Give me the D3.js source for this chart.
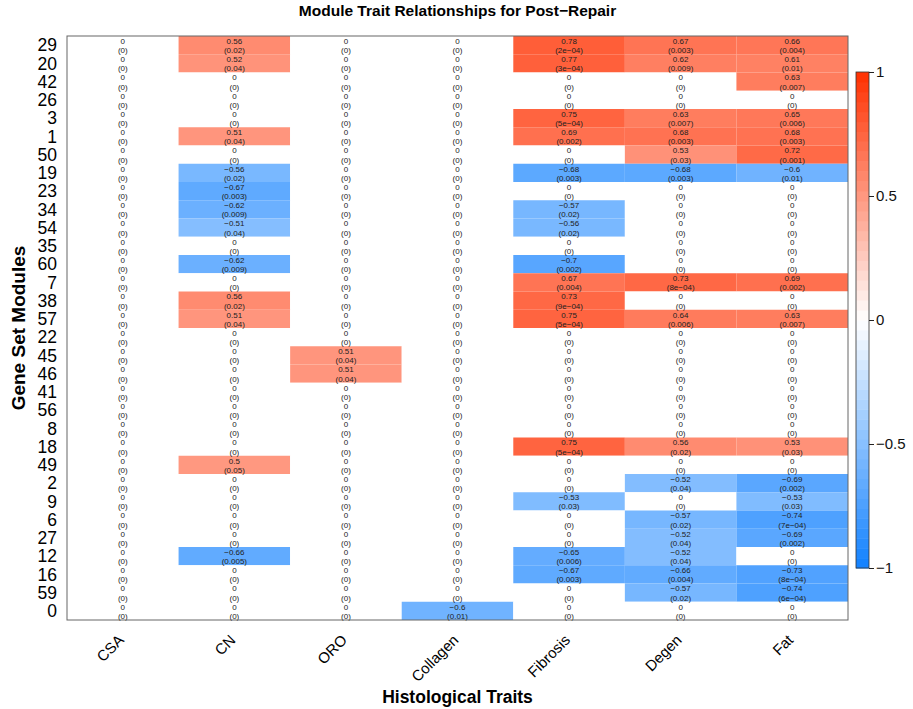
<!DOCTYPE html>
<meta charset="utf-8">
<script src="https://d3js.org/d3.v7.min.js"></script>
<style>
  body { margin: 0; background: #fff; }
  text { font-family: "Liberation Sans", Arial, sans-serif; }
</style>
<body>
<script>
// histological traits (columns) and modules (rows, top to bottom)
var traits = ["CSA", "CN", "ORO", "Collagen", "Fibrosis", "Degen", "Fat"];
var modules = ["29","20","42","26","3","1","50","19","23","34","54","35","60","7","38","57",
               "22","45","46","41","56","8","18","49","2","9","6","27","12","16","59","0"];

// correlation per module, one value per trait
var corr = [
  [0, 0.56, 0, 0, 0.78, 0.67, 0.66],
  [0, 0.52, 0, 0, 0.77, 0.62, 0.61],
  [0, 0, 0, 0, 0, 0, 0.63],
  [0, 0, 0, 0, 0, 0, 0],
  [0, 0, 0, 0, 0.75, 0.63, 0.65],
  [0, 0.51, 0, 0, 0.69, 0.68, 0.68],
  [0, 0, 0, 0, 0, 0.53, 0.72],
  [0, -0.56, 0, 0, -0.68, -0.68, -0.6],
  [0, -0.67, 0, 0, 0, 0, 0],
  [0, -0.62, 0, 0, -0.57, 0, 0],
  [0, -0.51, 0, 0, -0.56, 0, 0],
  [0, 0, 0, 0, 0, 0, 0],
  [0, -0.62, 0, 0, -0.7, 0, 0],
  [0, 0, 0, 0, 0.67, 0.73, 0.69],
  [0, 0.56, 0, 0, 0.73, 0, 0],
  [0, 0.51, 0, 0, 0.75, 0.64, 0.63],
  [0, 0, 0, 0, 0, 0, 0],
  [0, 0, 0.51, 0, 0, 0, 0],
  [0, 0, 0.51, 0, 0, 0, 0],
  [0, 0, 0, 0, 0, 0, 0],
  [0, 0, 0, 0, 0, 0, 0],
  [0, 0, 0, 0, 0, 0, 0],
  [0, 0, 0, 0, 0.75, 0.56, 0.53],
  [0, 0.5, 0, 0, 0, 0, 0],
  [0, 0, 0, 0, 0, -0.52, -0.69],
  [0, 0, 0, 0, -0.53, 0, -0.53],
  [0, 0, 0, 0, 0, -0.57, -0.74],
  [0, 0, 0, 0, 0, -0.52, -0.69],
  [0, -0.66, 0, 0, -0.65, -0.52, 0],
  [0, 0, 0, 0, -0.67, -0.66, -0.73],
  [0, 0, 0, 0, 0, -0.57, -0.74],
  [0, 0, 0, -0.6, 0, 0, 0]
];

// p-values as printed
var pval = [
  ["0", "0.02", "0", "0", "2e-04", "0.003", "0.004"],
  ["0", "0.04", "0", "0", "3e-04", "0.009", "0.01"],
  ["0", "0", "0", "0", "0", "0", "0.007"],
  ["0", "0", "0", "0", "0", "0", "0"],
  ["0", "0", "0", "0", "5e-04", "0.007", "0.006"],
  ["0", "0.04", "0", "0", "0.002", "0.003", "0.003"],
  ["0", "0", "0", "0", "0", "0.03", "0.001"],
  ["0", "0.02", "0", "0", "0.003", "0.003", "0.01"],
  ["0", "0.003", "0", "0", "0", "0", "0"],
  ["0", "0.009", "0", "0", "0.02", "0", "0"],
  ["0", "0.04", "0", "0", "0.02", "0", "0"],
  ["0", "0", "0", "0", "0", "0", "0"],
  ["0", "0.009", "0", "0", "0.002", "0", "0"],
  ["0", "0", "0", "0", "0.004", "8e-04", "0.002"],
  ["0", "0.02", "0", "0", "9e-04", "0", "0"],
  ["0", "0.04", "0", "0", "5e-04", "0.006", "0.007"],
  ["0", "0", "0", "0", "0", "0", "0"],
  ["0", "0", "0.04", "0", "0", "0", "0"],
  ["0", "0", "0.04", "0", "0", "0", "0"],
  ["0", "0", "0", "0", "0", "0", "0"],
  ["0", "0", "0", "0", "0", "0", "0"],
  ["0", "0", "0", "0", "0", "0", "0"],
  ["0", "0", "0", "0", "5e-04", "0.02", "0.03"],
  ["0", "0.05", "0", "0", "0", "0", "0"],
  ["0", "0", "0", "0", "0", "0.04", "0.002"],
  ["0", "0", "0", "0", "0.03", "0", "0.03"],
  ["0", "0", "0", "0", "0", "0.02", "7e-04"],
  ["0", "0", "0", "0", "0", "0.04", "0.002"],
  ["0", "0.005", "0", "0", "0.006", "0.04", "0"],
  ["0", "0", "0", "0", "0.003", "0.004", "8e-04"],
  ["0", "0", "0", "0", "0", "0.02", "6e-04"],
  ["0", "0", "0", "0.01", "0", "0", "0"]
];

var legendTicks = [1, 0.5, 0, -0.5, -1];

var W = 913, H = 709;
var plot = {left: 67, right: 848, top: 36, bottom: 620};

var svg = d3.select("body").append("svg")
    .attr("width", W)
    .attr("height", H);

var x = d3.scaleBand().domain(traits).range([plot.left, plot.right]);
var y = d3.scaleBand().domain(modules).range([plot.top, plot.bottom]);

var color = d3.scaleLinear()
    .domain([-1, 0, 1])
    .range(["#1080ff", "#ffffff", "#ff3000"])
    .interpolate(d3.interpolateRgb);

function minus(s) { return String(s).replace(/-/g, "\u2212"); }

// flatten to cells
var cells = [];
modules.forEach(function(m, i) {
  traits.forEach(function(t, j) {
    cells.push({module: m, trait: t, r: corr[i][j], p: pval[i][j]});
  });
});

// cells
svg.append("g")
  .selectAll("rect")
  .data(cells)
  .enter().append("rect")
    .attr("x", function(d) { return x(d.trait); })
    .attr("y", function(d) { return y(d.module); })
    .attr("width", x.bandwidth())
    .attr("height", y.bandwidth())
    .attr("fill", function(d) { return color(d.r); });

var labels = svg.append("g")
  .selectAll("g")
  .data(cells)
  .enter().append("g")
    .attr("transform", function(d) {
      return "translate(" + (x(d.trait) + x.bandwidth() / 2) + "," + y(d.module) + ")";
    })
    .style("font-size", "8px")
    .style("fill", "#222")
    .attr("text-anchor", "middle");

labels.append("text")
    .attr("y", 5)
    .attr("dy", "0.35em")
    .text(function(d) { return minus(d.r); });

labels.append("text")
    .attr("y", 14.3)
    .attr("dy", "0.35em")
    .text(function(d) { return "(" + minus(d.p) + ")"; });

// frame
svg.append("rect")
    .attr("x", plot.left)
    .attr("y", plot.top)
    .attr("width", plot.right - plot.left)
    .attr("height", plot.bottom - plot.top)
    .attr("fill", "none")
    .attr("stroke", "#666")
    .attr("stroke-width", 1);

// row labels
svg.append("g")
  .selectAll("text")
  .data(modules)
  .enter().append("text")
    .attr("x", 57)
    .attr("y", function(d) { return y(d) + y.bandwidth() / 2; })
    .attr("dy", "0.36em")
    .attr("text-anchor", "end")
    .style("font-size", "17.5px")
    .text(function(d) { return d; });

// column labels, rotated
svg.append("g")
  .selectAll("text")
  .data(traits)
  .enter().append("text")
    .attr("transform", function(d) {
      return "translate(" + (x(d) + x.bandwidth() / 2 + 2) + ",641) rotate(-45)";
    })
    .attr("text-anchor", "end")
    .style("font-size", "15px")
    .text(function(d) { return d; });

// titles
svg.append("text")
    .attr("x", (plot.left + plot.right) / 2)
    .attr("y", 16)
    .attr("text-anchor", "middle")
    .style("font-size", "15.5px")
    .style("font-weight", "bold")
    .text("Module Trait Relationships for Post\u2212Repair");

svg.append("text")
    .attr("x", (plot.left + plot.right) / 2)
    .attr("y", 703)
    .attr("text-anchor", "middle")
    .style("font-size", "17.5px")
    .style("font-weight", "bold")
    .text("Histological Traits");

svg.append("text")
    .attr("transform", "translate(25," + (plot.top + plot.bottom) / 2 + ") rotate(-90)")
    .attr("text-anchor", "middle")
    .style("font-size", "19px")
    .style("font-weight", "bold")
    .text("Gene Set Modules");

// colour bar
var bar = {x: 856, w: 13, top: 72, bottom: 568};
var ly = d3.scaleLinear().domain([-1, 1]).range([bar.bottom, bar.top]);
var nSteps = 50;
var steps = d3.range(nSteps).map(function(i) { return -1 + (i + 0.5) * 2 / nSteps; });

svg.append("g")
  .selectAll("rect")
  .data(steps)
  .enter().append("rect")
    .attr("x", bar.x)
    .attr("y", function(d) { return ly(d + 1 / nSteps); })
    .attr("width", bar.w)
    .attr("height", (bar.bottom - bar.top) / nSteps + 0.5)
    .attr("fill", function(d) { return color(d); });

svg.append("rect")
    .attr("x", bar.x)
    .attr("y", bar.top)
    .attr("width", bar.w)
    .attr("height", bar.bottom - bar.top)
    .attr("fill", "none")
    .attr("stroke", "#333")
    .attr("stroke-width", 0.8);

var laxis = svg.append("g")
    .attr("transform", "translate(" + (bar.x + bar.w) + ",0)")
    .call(d3.axisRight(ly).tickValues(legendTicks).tickSize(5)
          .tickFormat(function(d) { return minus(d); }));
laxis.select(".domain").remove();
laxis.selectAll("line").attr("stroke", "#222");
laxis.selectAll("text")
    .attr("x", 7)
    .style("font-size", "15px")
    .style("font-family", "'Liberation Sans', Arial, sans-serif")
    .attr("fill", "#111");
</script>
</body>
